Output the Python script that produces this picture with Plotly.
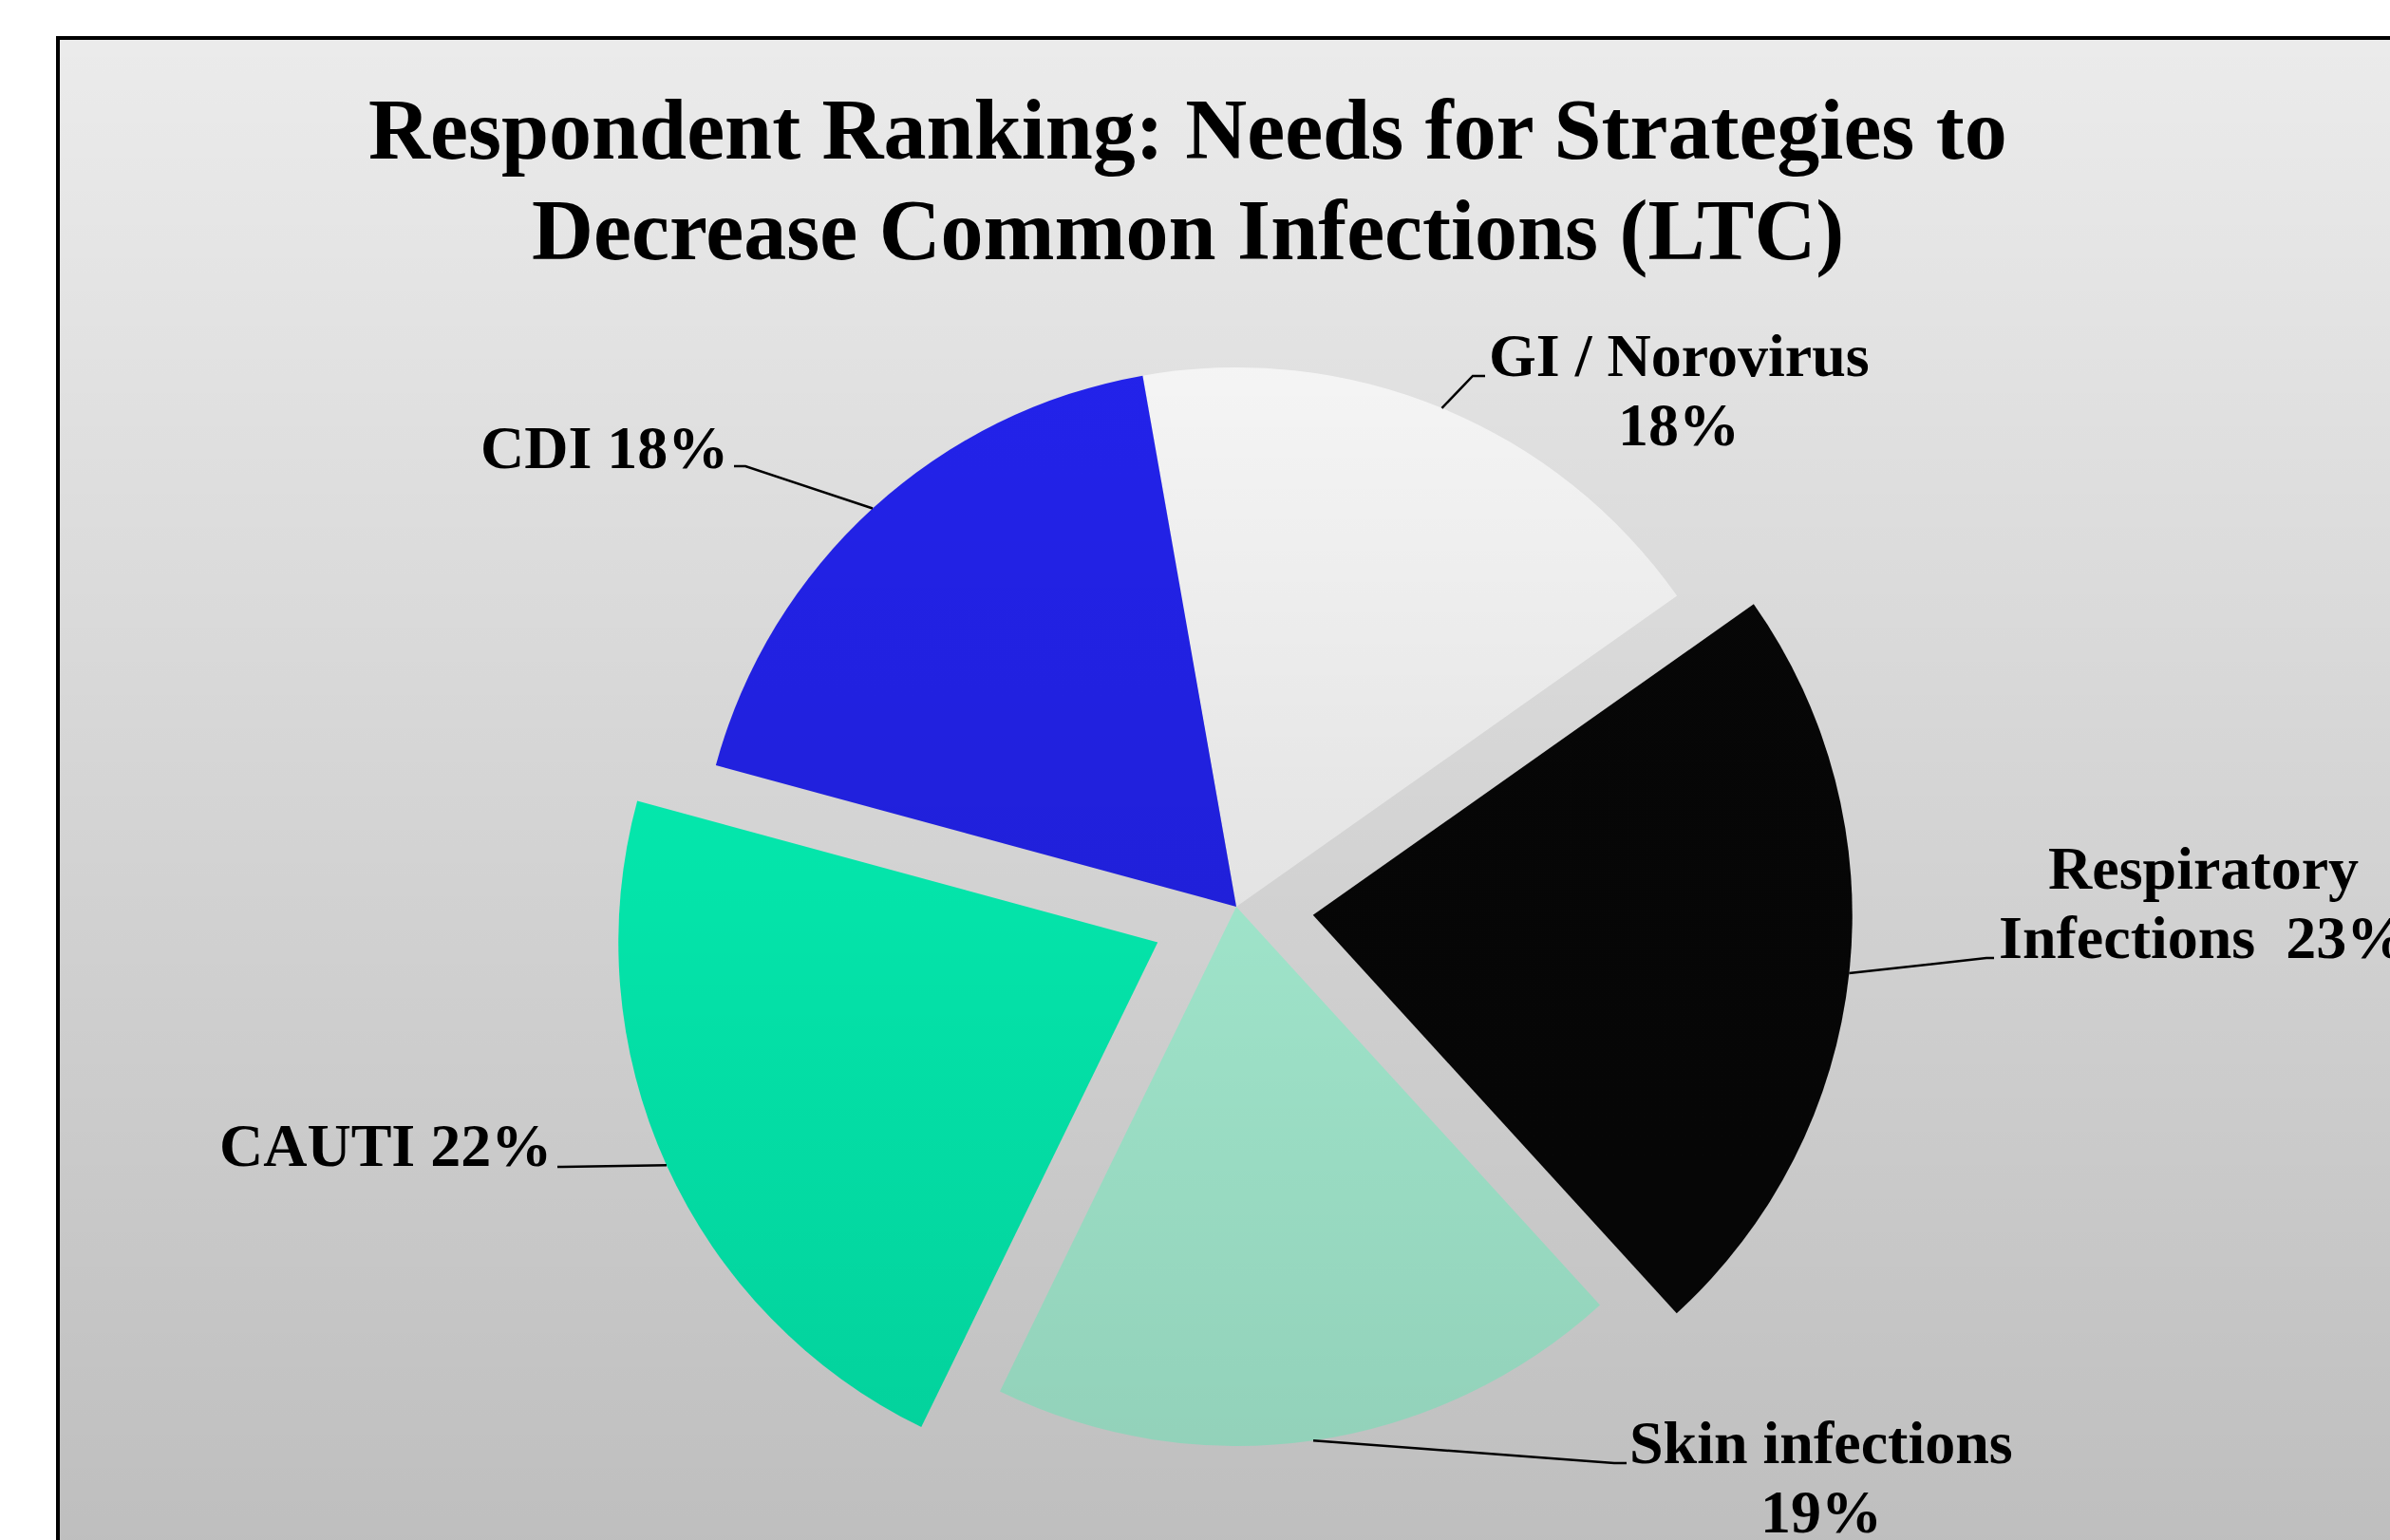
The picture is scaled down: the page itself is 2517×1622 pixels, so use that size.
import math
import base64
import plotly.graph_objects as go

W, H = 2517, 1622

# ---------------- data ----------------
categories = ["GI / Norovirus", "Respiratory Infections", "Skin infections", "CAUTI", "CDI"]
values = [18, 23, 19, 22, 18]
pulls = [0.0, 0.143, 0.0, 0.16, 0.0]
colors = ["#ffffff", "#070707", "#b2ffe2", "#04ffbe", "#2424f4"]
# how each label is broken into lines (text built from categories + values)
label_lines = [
    ["GI / Norovirus", "{v}%"],
    ["Respiratory", "Infections  {v}%"],
    ["Skin infections", "{v}%"],
    ["CAUTI {v}%"],
    ["CDI {v}%"],
]
title_lines = ["Respondent Ranking: Needs for Strategies to", "Decrease Common Infections (LTC)"]

# ---------------- layout geometry (pixels) ----------------
CX, CY, R = 1302, 955, 568
ROT = -10
FRAME_X, FRAME_Y = 61, 40
LABEL_SIZE = 64
TITLE_SIZE = 90
LINE_GAP = 73
# per label: (anchor x, xanchor, first baseline y, elbow x, elbow y, stub end x)
label_pos = [
    (1768, "center", 396, 1551, 396, 1564),
    (2320, "center", 936, 2092, 1009, 2100),
    (1918, "center", 1541, 1700, 1541, 1713),
    (583, "right", 1228, 592, 1229, 587),
    (769, "right", 493, 785, 491, 773),
]

def px(x):
    return x / W

def py(y):
    return 1 - y / H

maxp = max(pulls)
box = 2 * R * (1 + maxp)
dom_x = [px(CX - box / 2), px(CX + box / 2)]
dom_y = [py(CY + box / 2), py(CY - box / 2)]

fig = go.Figure(go.Pie(
    labels=categories,
    values=values,
    sort=False,
    direction="clockwise",
    rotation=ROT,
    pull=pulls,
    marker=dict(colors=colors, line=dict(width=0)),
    textinfo="none",
    hoverinfo="label+percent",
    domain=dict(x=dom_x, y=dom_y),
    showlegend=False,
))

shapes = [dict(type="rect", xref="paper", yref="paper",
               x0=px(FRAME_X), y0=py(FRAME_Y), x1=1.02, y1=-0.02,
               line=dict(color="black", width=4), fillcolor="#ebebeb", layer="below")]

annotations = []
font_lbl = dict(family="Liberation Serif", size=LABEL_SIZE, color="black", weight="bold")
font_ttl = dict(family="Liberation Serif", size=TITLE_SIZE, color="black", weight="bold")

total = sum(values)
cum = 0
for i, v in enumerate(values):
    mid = math.radians(ROT + 360 * (cum + v / 2) / total)
    cum += v
    rr = R * (1 + pulls[i])
    sx = CX + rr * math.sin(mid)
    sy = CY - rr * math.cos(mid)
    ax, xanc, base_y, ex, ey, lx = label_pos[i]
    shapes.append(dict(type="path", xref="paper", yref="paper",
                       path=f"M {px(sx)} {py(sy)} L {px(ex)} {py(ey)} L {px(lx)} {py(ey)}",
                       line=dict(color="black", width=2.5), layer="above"))
    for k, line in enumerate(label_lines[i]):
        by = base_y + k * LINE_GAP
        annotations.append(dict(
            text=line.format(v=v), x=px(ax), y=py(by - 0.3375 * LABEL_SIZE),
            xref="paper", yref="paper", xanchor=xanc, yanchor="middle",
            showarrow=False, font=font_lbl))

title_base = [167, 273]
for k, line in enumerate(title_lines):
    annotations.append(dict(
        text=line, x=px(1251), y=py(title_base[k] - 0.3375 * TITLE_SIZE),
        xref="paper", yref="paper", xanchor="center", yanchor="middle",
        showarrow=False, font=font_ttl))

# vertical shading of the chart area (light at top, darker at bottom)
svg = ('<svg xmlns="http://www.w3.org/2000/svg" width="10" height="100" viewBox="0 0 10 100" '
       'preserveAspectRatio="none"><defs><linearGradient id="g" x1="0" y1="0" x2="0" y2="1">'
       '<stop offset="0" stop-color="#000" stop-opacity="0"/>'
       '<stop offset="1" stop-color="#000" stop-opacity="0.19"/></linearGradient></defs>'
       '<rect width="10" height="100" fill="url(#g)"/></svg>')
src = "data:image/svg+xml;base64," + base64.b64encode(svg.encode()).decode()

fig.update_layout(
    width=W, height=H,
    margin=dict(l=0, r=0, t=0, b=0),
    paper_bgcolor="white",
    plot_bgcolor="white",
    shapes=shapes,
    annotations=annotations,
    images=[dict(source=src, xref="paper", yref="paper",
                 x=px(FRAME_X + 2), y=py(FRAME_Y + 2), sizex=1 - px(FRAME_X + 2), sizey=py(FRAME_Y + 2),
                 xanchor="left", yanchor="top", sizing="stretch", layer="above")],
)

fig.write_html("out.html")
